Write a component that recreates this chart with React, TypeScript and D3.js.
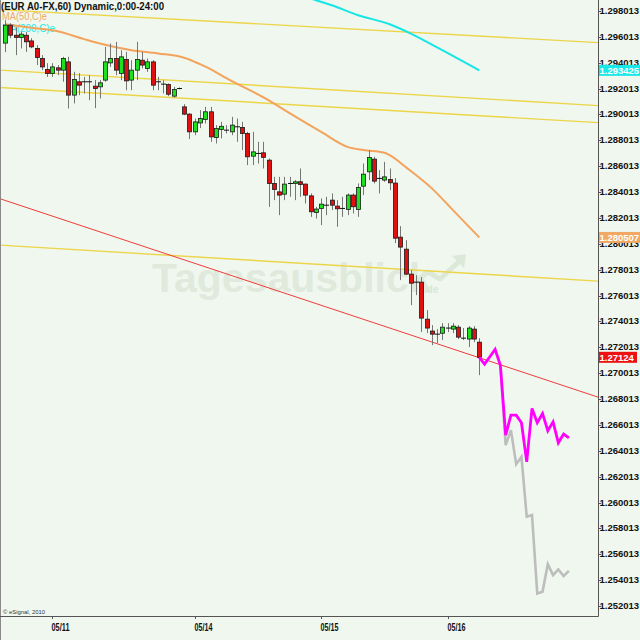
import React from "react";
import * as d3 from "d3";

// ---------- text ----------
const title = "(EUR A0-FX,60) Dynamic,0:00-24:00";
const legendMA50 = "MA(50,C)e";
const legendMA200 = "MA(200,C)e";
const copyright = "\u00A9 eSignal, 2010";
const watermark = "Tagesausblick";

// ---------- hourly candles (EUR/USD) ----------
const opens = [
  1.29553, 1.29692, 1.29614, 1.29597, 1.29614, 1.2957, 1.29512, 1.29434, 1.29349, 1.29318,
  1.29362, 1.29344, 1.29408, 1.29151, 1.29254, 1.29254, 1.29254, 1.2922, 1.29215, 1.29267,
  1.294, 1.29434, 1.29318, 1.29427, 1.29267, 1.29344, 1.29421, 1.29357, 1.29408, 1.29254,
  1.29246, 1.29233, 1.29143, 1.29202, 1.2906, 1.29004, 1.28867, 1.28936, 1.28963, 1.29022,
  1.28824, 1.28885, 1.2888, 1.28867, 1.28906, 1.28901, 1.28855, 1.28679, 1.287, 1.28705,
  1.28648, 1.28468, 1.28403, 1.28385, 1.28468, 1.28468, 1.28481, 1.28463, 1.28372, 1.28244,
  1.28275, 1.283, 1.28339, 1.28293, 1.28275, 1.28267, 1.28378, 1.28267, 1.28447, 1.28558,
  1.28656, 1.28514, 1.28494, 1.28499, 1.28471, 1.28053, 1.2796, 1.27767, 1.27705, 1.27705,
  1.27419, 1.27327, 1.27303, 1.2731, 1.2735, 1.27342, 1.27357, 1.27272, 1.27265, 1.27342,
  1.27241,
];
const highs = [
  1.2973, 1.29707, 1.29676, 1.2964, 1.2964, 1.29591, 1.29537, 1.2946, 1.29398, 1.29398,
  1.29383, 1.29447, 1.29447, 1.29331, 1.29321, 1.29292, 1.29305, 1.29267, 1.29267, 1.29524,
  1.2955, 1.29563, 1.29498, 1.29485, 1.29421, 1.29563, 1.29485, 1.29434, 1.29421, 1.29292,
  1.29267, 1.29241, 1.29215, 1.2921, 1.29081, 1.29012, 1.2897, 1.29035, 1.2906, 1.2906,
  1.28919, 1.28944, 1.28919, 1.28983, 1.2897, 1.28944, 1.28867, 1.28867, 1.2879, 1.2879,
  1.28661, 1.28519, 1.28519, 1.28519, 1.28519, 1.28494, 1.28584, 1.28468, 1.28391, 1.28287,
  1.28352, 1.28365, 1.28391, 1.28339, 1.28365, 1.28391, 1.28391, 1.28468, 1.28622, 1.28726,
  1.28674, 1.28571, 1.28635, 1.28584, 1.28509, 1.28138, 1.2803, 1.27798, 1.27759, 1.27744,
  1.27489, 1.27373, 1.27342, 1.27388, 1.27388, 1.27388, 1.27373, 1.2735, 1.27365, 1.27365,
  1.27272,
];
const lows = [
  1.29483, 1.29591, 1.2946, 1.29512, 1.29485, 1.29514, 1.29383, 1.29344, 1.29292, 1.29292,
  1.29305, 1.29254, 1.29048, 1.29087, 1.29151, 1.29164, 1.29112, 1.2905, 1.29125, 1.29254,
  1.29369, 1.29305, 1.29267, 1.29189, 1.29189, 1.29267, 1.29357, 1.29331, 1.29189, 1.29189,
  1.29164, 1.29143, 1.29133, 1.29195, 1.28996, 1.28811, 1.28841, 1.28896, 1.28932, 1.2879,
  1.28777, 1.28816, 1.28855, 1.28841, 1.2879, 1.28726, 1.2861, 1.2861, 1.28622, 1.28584,
  1.28287, 1.28339, 1.28223, 1.28339, 1.28365, 1.28339, 1.28365, 1.28313, 1.2821, 1.28197,
  1.28146, 1.28223, 1.28262, 1.28133, 1.2821, 1.28223, 1.28236, 1.2821, 1.28378, 1.28494,
  1.28468, 1.28391, 1.28481, 1.28416, 1.28007, 1.27721, 1.2776, 1.27527, 1.27605, 1.27319,
  1.27311, 1.27218, 1.27234, 1.27257, 1.27319, 1.27311, 1.27265, 1.27257, 1.27203, 1.27241,
  1.26986,
];
const closes = [
  1.29692, 1.29614, 1.29597, 1.29622, 1.29563, 1.29524, 1.29442, 1.29369, 1.29318, 1.29369,
  1.29344, 1.29434, 1.29151, 1.29272, 1.29228, 1.29254, 1.29254, 1.29202, 1.29246, 1.29408,
  1.29434, 1.29344, 1.29447, 1.29261, 1.29344, 1.29427, 1.29383, 1.29408, 1.29228, 1.29254,
  1.29236, 1.29158, 1.29195, 1.29202, 1.29004, 1.28867, 1.28944, 1.2897, 1.29022, 1.28828,
  1.28893, 1.2891, 1.2888, 1.28919, 1.28906, 1.28855, 1.28674, 1.28712, 1.287, 1.2867,
  1.28468, 1.28422, 1.28378, 1.28463, 1.28468, 1.28481, 1.2846, 1.28378, 1.28249, 1.2827,
  1.28308, 1.283, 1.283, 1.28272, 1.28275, 1.28378, 1.28288, 1.28437, 1.2854, 1.28669,
  1.28486, 1.28507, 1.28519, 1.28473, 1.28045, 1.27976, 1.27767, 1.27697, 1.27705, 1.27427,
  1.2735, 1.27303, 1.27303, 1.27357, 1.2735, 1.27365, 1.2728, 1.27272, 1.2735, 1.27265,
  1.27124,
];

// ---------- axes ----------
const dateLabels = ["05/11", "05/14", "05/15", "05/16"];
const dateBarIndex = [9, 36, 60, 84];
const priceTickLabels = [
  "1.298013", "1.296013", "1.294013", "1.292013", "1.290013", "1.288013", "1.286013", "1.284013",
  "1.282013", "1.280013", "1.278013", "1.276013", "1.274013", "1.272013", "1.270013", "1.268013",
  "1.266013", "1.264013", "1.262013", "1.260013", "1.258013", "1.256013", "1.254013", "1.252013",
];

// ---------- moving averages ----------
const ma50Index = [0, 5, 10, 15, 18, 24, 29, 34, 37, 39, 42, 50, 54, 60, 65, 68, 72, 73, 76, 81, 85, 90];
const ma50Values = [
  1.29699, 1.29672, 1.29645, 1.29584, 1.2955, 1.29498, 1.29473, 1.2944, 1.2939, 1.29352, 1.29282,
  1.29112, 1.29012, 1.28867, 1.28751, 1.28726, 1.28705, 1.28687, 1.28596, 1.2843, 1.28262, 1.280507,
];
const ma200Index = [55, 59, 62, 67, 73, 77, 82, 90];
const ma200Values = [1.29931, 1.29885, 1.29846, 1.29769, 1.29699, 1.29627, 1.2952, 1.293425];

// ---------- forecast paths ----------
const forecastAIndex = [90, 91, 92, 93, 94, 95, 96, 97, 98, 99, 100, 101, 102, 103, 104, 105, 106, 107];
const forecastAValues = [
  1.27124, 1.27071, 1.27128, 1.27185, 1.27063, 1.26522, 1.26677, 1.26677, 1.26618, 1.26316,
  1.26729, 1.26618, 1.2669, 1.26556, 1.26625, 1.26463, 1.2653, 1.26501,
];
const forecastBIndex = [94, 95, 96, 97, 98, 99, 100, 101, 102, 103, 104, 105, 106, 107];
const forecastBValues = [
  1.27063, 1.26445, 1.26561, 1.26298, 1.26355, 1.25891, 1.25904, 1.25298, 1.25311, 1.25525,
  1.2544, 1.25484, 1.25432, 1.25473,
];

// ---------- trend lines (price at left edge, price at right edge) ----------
const trendEdgeIndex = [-0.95, 112.53];
const yellowStart = [1.29812, 1.29344, 1.2921, 1.27991];
const yellowEnd = [1.29557, 1.2907, 1.28938, 1.27713];
const redStart = 1.2835;
const redEnd = 1.26816;

// ---------- last-value tags ----------
const tagValues = [1.293425, 1.280507, 1.27124];
const tagTexts = ["1.293425", "1.280507", "1.27124"];
const tagColors = ["#19e8e8", "#f0a864", "#ee1111"];

const BG = "#eff7ef";
const FONT = "'Liberation Sans', Arial, sans-serif";

export default function App() {
  const plotR = 598;
  const plotB = 616;
  const x = d3.scaleLinear().domain([0, 90]).range([5, 479.3]);
  const y = d3.scaleLinear().domain([1.252013, 1.298013]).range([606, 11]);
  const line = d3
    .line<[number, number]>()
    .x((d) => x(d[0]))
    .y((d) => y(d[1]));
  const smooth = d3
    .line<[number, number]>()
    .x((d) => x(d[0]))
    .y((d) => y(d[1]))
    .curve(d3.curveMonotoneX);

  const ma50 = ma50Index.map((d, i) => [d, ma50Values[i]] as [number, number]);
  const ma200 = ma200Index.map((d, i) => [d, ma200Values[i]] as [number, number]);
  const fa = forecastAIndex.map((d, i) => [d, forecastAValues[i]] as [number, number]);
  const fb = forecastBIndex.map((d, i) => [d, forecastBValues[i]] as [number, number]);

  return (
    <svg
      width={640}
      height={640}
      style={{ position: "absolute", left: 0, top: 0, display: "block" }}
      fontFamily={FONT}
    >
      <defs>
        <clipPath id="plotClip">
          <rect x={0} y={0} width={plotR} height={plotB} />
        </clipPath>
      </defs>
      <rect x={0} y={0} width={640} height={640} fill={BG} />

      <g clipPath="url(#plotClip)">
        {/* watermark */}
        <text x={152} y={292} fontSize={41} fontWeight="bold" fill="#dfeadd" fontFamily={FONT}>
          {watermark}
        </text>
        <text x={424} y={293} fontSize={10} fontWeight="bold" fill="#d9e6d7">
          .de
        </text>
        <path
          d="M412,284 L428,272 L440,279 L462,259"
          fill="none"
          stroke="#dce9d9"
          strokeWidth={5}
          strokeLinejoin="round"
        />
        <path d="M452,256 L466,254 L464,268 Z" fill="#dce9d9" />

        {/* legend */}
        <text x={2} y={20} fontSize={10} fill="#f3a766" textLength={45} lengthAdjust="spacingAndGlyphs">
          {legendMA50}
        </text>
        <text x={2} y={32} fontSize={10} fill="#1ceaea" textLength={53} lengthAdjust="spacingAndGlyphs">
          {legendMA200}
        </text>

        {/* trend lines */}
        {yellowStart.map((s, i) => (
          <line
            key={"yl" + i}
            x1={x(trendEdgeIndex[0])}
            y1={y(s)}
            x2={x(trendEdgeIndex[1])}
            y2={y(yellowEnd[i])}
            stroke="#ecd548"
            strokeWidth={1.4}
          />
        ))}
        <line
          x1={x(trendEdgeIndex[0])}
          y1={y(redStart)}
          x2={x(trendEdgeIndex[1])}
          y2={y(redEnd)}
          stroke="#f03c3c"
          strokeWidth={1}
        />

        {/* moving averages */}
        <path d={smooth(ma50) || ""} fill="none" stroke="#f4a35c" strokeWidth={2} />
        <path d={smooth(ma200) || ""} fill="none" stroke="#16e6e6" strokeWidth={2} />

        {/* candles */}
        {closes.map((c, i) => {
          const cx = Math.round(x(i)) + 0.5;
          const o = opens[i];
          const yo = y(o);
          const yc = y(c);
          const top = Math.min(yo, yc);
          const h = Math.abs(yo - yc);
          const up = c >= o;
          return (
            <g key={"c" + i}>
              <line x1={cx} x2={cx} y1={y(highs[i])} y2={y(lows[i])} stroke="#767676" strokeWidth={1} />
              {h < 1.5 ? (
                <line x1={cx - 2.5} x2={cx + 2.5} y1={yc} y2={yc} stroke="#111" strokeWidth={1} />
              ) : (
                <rect
                  x={cx - 2}
                  y={top}
                  width={4}
                  height={h}
                  fill={up ? "#1fe01f" : "#e01010"}
                  stroke="#1a1a1a"
                  strokeWidth={0.8}
                />
              )}
            </g>
          );
        })}

        {/* forecasts */}
        <path d={line(fb) || ""} fill="none" stroke="#bdbdbd" strokeWidth={2.6} strokeLinejoin="miter" />
        <path d={line(fa) || ""} fill="none" stroke="#ff00ff" strokeWidth={2.8} strokeLinejoin="miter" />

        <text x={3} y={614} fontSize={5.5} fill="#333" textLength={42} lengthAdjust="spacingAndGlyphs">
          {copyright}
        </text>
      </g>

      {/* title */}
      <text x={1} y={10} fontSize={10} fontWeight="bold" fill="#111" textLength={163} lengthAdjust="spacingAndGlyphs">
        {title}
      </text>

      {/* frame */}
      <line x1={0.5} x2={0.5} y1={0} y2={640} stroke="#8a8a8a" strokeWidth={1} />
      <line x1={plotR + 0.5} x2={plotR + 0.5} y1={0} y2={plotB + 0.5} stroke="#555" strokeWidth={1} />
      <line x1={0} x2={plotR + 0.5} y1={plotB + 0.5} y2={plotB + 0.5} stroke="#555" strokeWidth={1} />

      {/* y axis labels */}
      {priceTickLabels.map((t) => {
        const yy = y(+t);
        return (
          <g key={t}>
            <line x1={plotR} x2={plotR + 3} y1={Math.round(yy) + 0.5} y2={Math.round(yy) + 0.5} stroke="#555" />
            <text x={599.5} y={yy + 3} fontSize={9.5} fontWeight="bold" fill="#111">
              {t}
            </text>
          </g>
        );
      })}

      {/* last value tags */}
      {tagValues.map((v, i) => {
        const yy = y(v);
        const w = tagTexts[i].length > 7 ? 41 : 38;
        return (
          <g key={"tag" + i}>
            <rect x={plotR + 1} y={yy - 5.5} width={w} height={11} fill={tagColors[i]} />
            <text x={599.5} y={yy + 3.5} fontSize={9.5} fontWeight="bold" fill="#fff">
              {tagTexts[i]}
            </text>
          </g>
        );
      })}

      {/* x axis */}
      {dateLabels.map((d, i) => {
        const xx = Math.round(x(dateBarIndex[i])) + 0.5;
        return (
          <g key={d}>
            <line x1={xx} x2={xx} y1={plotB} y2={plotB + 3} stroke="#555" />
            <text
              x={xx - 1}
              y={631}
              fontSize={10.5}
              fontWeight="bold"
              fill="#111"
              textLength={18}
              lengthAdjust="spacingAndGlyphs"
            >
              {d}
            </text>
          </g>
        );
      })}
    </svg>
  );
}
